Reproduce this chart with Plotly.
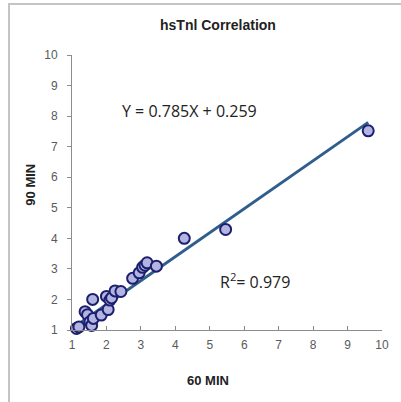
import plotly.graph_objects as go

# hsTnI at 60 min vs 90 min
x_60min = [1.13, 1.25, 1.20, 1.38, 1.45, 1.52, 1.57, 1.62, 1.60, 1.85, 2.00, 2.05, 2.10,
           2.15, 2.25, 2.42, 2.76, 2.95, 3.05, 3.12, 3.18, 3.45, 4.26, 5.46, 9.60]
y_90min = [1.05, 0.98, 1.10, 1.60, 1.50, 1.27, 1.15, 1.38, 2.00, 1.49, 2.10, 1.67, 1.98,
           2.05, 2.28, 2.26, 2.69, 2.87, 3.05, 3.12, 3.20, 3.09, 4.00, 4.29, 7.52]

slope = 0.785
intercept = 0.259
r_squared = 0.979

tick_vals = [1, 2, 3, 4, 5, 6, 7, 8, 9, 10]

x_fit = [min(x_60min), max(x_60min)]
y_fit = [slope * v + intercept for v in x_fit]

fig = go.Figure()
fig.add_trace(go.Scatter(
    x=x_fit, y=y_fit, mode="lines",
    line=dict(color="#2f5e8c", width=3),
    hoverinfo="skip", showlegend=False, cliponaxis=False,
))
fig.add_trace(go.Scatter(
    x=x_60min, y=y_90min, mode="markers",
    marker=dict(size=11, color="#b4b4e2", line=dict(color="#1c1f6e", width=2)),
    showlegend=False, cliponaxis=False,
))

axis_common = dict(
    range=[1, 10], tickvals=tick_vals, showgrid=False, zeroline=False,
    showline=True, linecolor="#8c8c8c", linewidth=1,
    ticklen=4, tickcolor="#8c8c8c",
    tickfont=dict(family="Liberation Sans, Arial", size=12, color="#5a5a5a"),
)


def label(text, px, py, size, family, angle=0):
    """Text centred on a pixel position of the 401x402 canvas."""
    return dict(text=text, xref="paper", yref="paper",
                x=(px - 72) / 315, y=(330 - py) / 275,
                xanchor="center", yanchor="middle", showarrow=False,
                textangle=angle,
                font=dict(family=family, size=size, color="#222222"))


bold_font = "Liberation Sans, Arial"
text_font = "Open Sans, Liberation Sans"

fig.update_layout(
    width=401, height=402,
    margin=dict(l=72, r=14, t=55, b=72),
    paper_bgcolor="white", plot_bgcolor="white",
    xaxis=dict(**axis_common, ticks="inside", ticklabelstandoff=4),
    yaxis=dict(**axis_common, ticks="outside", ticklabelstandoff=7),
    annotations=[
        label("<b>hsTnl Correlation</b>", 220, 25, 14, bold_font),
        label("<b>60 MIN</b>", 210, 380, 13, bold_font),
        label("<b>90 MIN</b>", 29, 185, 13, bold_font, angle=-90),
        label(f"Y = {slope}X + {intercept}", 191, 111, 16, text_font),
        label(f"R<sup>2</sup>= {r_squared}", 258, 281, 16, text_font),
    ],
    shapes=[
        dict(type="rect", xref="paper", yref="paper",
             x0=(8 - 72) / 315, x1=1.2, y0=-0.4, y1=(330 - 4) / 275,
             line=dict(color="#c4c4c4", width=2), layer="below"),
    ],
)

fig.write_html("out.html")
